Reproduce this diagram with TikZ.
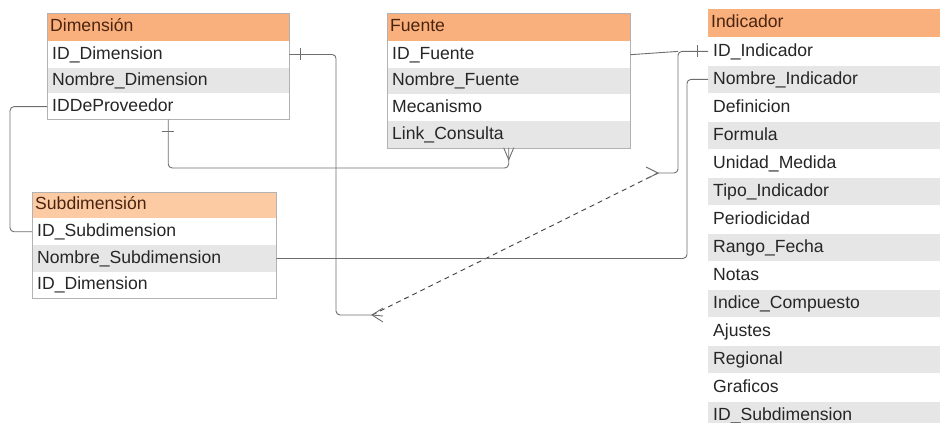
\documentclass[tikz,border=0pt]{standalone}
\usepackage{fontspec}
\setmainfont{Liberation Sans}
\usetikzlibrary{positioning}

\definecolor{hdrorange}{HTML}{F9B07C}
\definecolor{hdrlight}{HTML}{FCCBA3}
\definecolor{rowgray}{HTML}{E6E6E6}
\definecolor{linkgray}{HTML}{6E6E6E}
\definecolor{hdrtext}{HTML}{4A2410}

\begin{document}
\begin{tikzpicture}[x=1pt,y=-1pt,
    tbl/.style={font=\fontsize{17.6}{20}\selectfont, inner xsep=5pt, inner ysep=0pt,
        text height=12.6pt, text depth=3.4pt, align=left, text=black!85},
    head/.style={tbl, fill=hdrorange, text=hdrtext, minimum height=28pt, inner xsep=3pt},
    whiterow/.style={tbl, fill=white, minimum height=26pt},
    grayrow/.style={tbl, fill=rowgray, minimum height=26pt},
    frame/.style={draw=black!30, line width=0.6pt},
    link/.style={draw=linkgray, line width=0.9pt, rounded corners=4pt},
    dashlink/.style={draw=black!75, line width=0.9pt, dash pattern=on 5pt off 4pt}]

    \useasboundingbox (0,0) rectangle (940,423);

    % Dimension
    \node[head, anchor=north west, text width=236pt] (dim) at (47,13) {Dimensión};
    \node[whiterow, text width=232pt, minimum height=25.7pt] (dim1) [below=0pt of dim] {ID\_Dimension};
    \node[grayrow, text width=232pt, minimum height=25.7pt] (dim2) [below=0pt of dim1] {Nombre\_Dimension};
    \node[whiterow, text width=232pt, minimum height=25.7pt] (dim3) [below=0pt of dim2] {IDDeProveedor};
    \draw[frame] (dim.north west) rectangle (dim3.south east);

    % Fuente
    \node[head, anchor=north west, text width=237pt] (fue) at (387,13) {Fuente};
    \node[whiterow, text width=233pt, minimum height=26.2pt] (fue1) [below=0pt of fue] {ID\_Fuente};
    \node[grayrow, text width=233pt, minimum height=26.2pt] (fue2) [below=0pt of fue1] {Nombre\_Fuente};
    \node[whiterow, text width=233pt, minimum height=26.2pt] (fue3) [below=0pt of fue2] {Mecanismo};
    \node[grayrow, text width=233pt, minimum height=26.2pt] (fue4) [below=0pt of fue3] {Link\_Consulta};
    \draw[frame] (fue.north west) rectangle (fue4.south east);

    % Indicador
    \node[head, anchor=north west, text width=236pt] (ind) at (708,9) {Indicador};
    \node[whiterow, text width=232pt, minimum height=27.6pt] (ind1) [below=0pt of ind] {ID\_Indicador};
    \node[grayrow, text width=232pt, minimum height=27.6pt] (ind2) [below=0pt of ind1] {Nombre\_Indicador};
    \node[whiterow, text width=232pt, minimum height=27.6pt] (ind3) [below=0pt of ind2] {Definicion};
    \node[grayrow, text width=232pt, minimum height=27.6pt] (ind4) [below=0pt of ind3] {Formula};
    \node[whiterow, text width=232pt, minimum height=27.6pt] (ind5) [below=0pt of ind4] {Unidad\_Medida};
    \node[grayrow, text width=232pt, minimum height=27.6pt] (ind6) [below=0pt of ind5] {Tipo\_Indicador};
    \node[whiterow, text width=232pt, minimum height=27.6pt] (ind7) [below=0pt of ind6] {Periodicidad};
    \node[grayrow, text width=232pt, minimum height=27.6pt] (ind8) [below=0pt of ind7] {Rango\_Fecha};
    \node[whiterow, text width=232pt, minimum height=27.6pt] (ind9) [below=0pt of ind8] {Notas};
    \node[grayrow, text width=232pt, minimum height=27.6pt] (ind10) [below=0pt of ind9] {Indice\_Compuesto};
    \node[whiterow, text width=232pt, minimum height=27.6pt] (ind11) [below=0pt of ind10] {Ajustes};
    \node[grayrow, text width=232pt, minimum height=27.6pt] (ind12) [below=0pt of ind11] {Regional};
    \node[whiterow, text width=232pt, minimum height=27.6pt] (ind13) [below=0pt of ind12] {Graficos};
    \node[grayrow, text width=232pt, minimum height=27.6pt] (ind14) [below=0pt of ind13] {ID\_Subdimension};

    % Subdimension
    \node[head, fill=hdrlight, anchor=north west, text width=238pt, minimum height=26pt] (sub) at (32,192) {Subdimensión};
    \node[whiterow, text width=234pt, minimum height=26.3pt] (sub1) [below=0pt of sub] {ID\_Subdimension};
    \node[grayrow, text width=234pt, minimum height=26.3pt] (sub2) [below=0pt of sub1] {Nombre\_Subdimension};
    \node[whiterow, text width=234pt, minimum height=26.3pt] (sub3) [below=0pt of sub2] {ID\_Dimension};
    \draw[frame] (sub.north west) rectangle (sub3.south east);

    % bend points and loose ends
    \coordinate (lnkA) at (336,315);
    \coordinate (lnkC) at (678,173);
    \coordinate (lnkD) at (10,160);
    \coordinate (lnkE) at (300,168);
    \coordinate (lnkF) at (687,200);
    \coordinate (fk1) at (372,315);
    \coordinate (fk2) at (658,173);

    % connectors
    \draw[link] (dim1.east) -| (lnkA) -- (fk1);
    \draw[link] ([xshift=11pt]dim1.east) +(0,-6) -- +(0,6);

    \draw[link] (ind1.west) -| (lnkC) -- (fk2);
    \draw[link] (fue1.east) -- (ind1.west -| lnkC);
    \draw[link] ([xshift=-11pt]ind1.west) +(0,-6) -- +(0,6);

    \draw[dashlink] (fk1) -- (fk2);
    \draw[link, rounded corners=0pt] ([shift={(11,-7)}]fk1) -- (fk1) -- ([shift={(11,7)}]fk1);
    \draw[link, rounded corners=0pt] (fk1) -- ([shift={(11,1)}]fk1);
    \draw[link, rounded corners=0pt] ([shift={(-12,-6)}]fk2) -- (fk2) -- ([shift={(-12,6)}]fk2);

    \draw[link] (dim3.west) -| (lnkD) |- (sub1.west);

    \draw[link] (dim3.south) |- (lnkE) -| (fue4.south);
    \draw[link] ([yshift=-12pt]dim3.south) +(-6,0) -- +(6,0);
    \draw[link, rounded corners=0pt] ([xshift=-5pt]fue4.south) -- ([yshift=-12pt]fue4.south) -- ([xshift=5pt]fue4.south);

    \draw[link] (sub2.east) -| (lnkF) |- (ind2.west);
\end{tikzpicture}
\end{document}
